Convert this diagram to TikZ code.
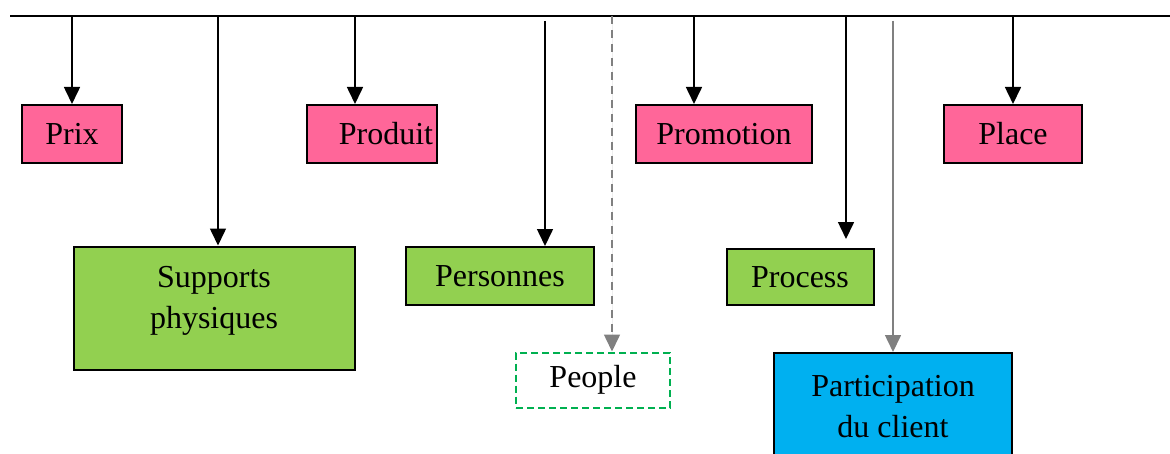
\documentclass[tikz,border=0pt]{standalone}
\usepackage{fontspec}
\setmainfont{Liberation Serif}
\usetikzlibrary{arrows.meta}
\definecolor{mixpink}{HTML}{FF6699}
\definecolor{mixgreen}{HTML}{92D050}
\definecolor{mixblue}{HTML}{00B0F0}
\definecolor{peoplegreen}{HTML}{00B050}
\definecolor{arrgray}{HTML}{808080}

\begin{document}
\begin{tikzpicture}[
        x=0.5pt, y=-0.5pt,
        every node/.style = {font=\fontsize{16}{20.5}\selectfont, align=center, inner sep=0pt},
        box/.style = {rectangle, draw=black, line width=1pt},
        pinkbox/.style = {box, fill=mixpink, minimum height=29pt},
        greenbox/.style = {box, fill=mixgreen},
        arr/.style = {-{Triangle[length=8.5pt,width=8pt]}, line width=0.8pt},
        grayarr/.style = {arr, draw=arrgray, fill=arrgray}]
      \useasboundingbox (0,0) rectangle (1170,454);
      \clip (0,0) rectangle (1170,454);
      % top line
      \draw[line width=0.9pt] (10,16) coordinate (lstart) -- (1170,16) coordinate (lend);
      % the seven P + the client
      \node[pinkbox, minimum width=50pt] (prix) at (72,134) {Prix};
      \node[pinkbox, minimum width=65pt] (produit) at (372,134) {\hspace*{14pt}Produit};
      \node[pinkbox, minimum width=88pt] (promotion) at (724,134) {Promotion};
      \node[pinkbox, minimum width=69pt] (place) at (1013,134) {Place};
      \node[greenbox, minimum width=140.5pt, minimum height=61.5pt] (supports) at (214,308) {Supports\\physiques\\[-10pt]\mbox{}};
      \node[greenbox, minimum width=94pt, minimum height=29pt] (personnes) at (500,276) {Personnes};
      \node[greenbox, minimum width=73.5pt, minimum height=28pt] (process) at (800,277) {Process};
      \node[draw=peoplegreen, dash pattern=on 3.5pt off 2pt, line width=1pt, fill=white,
            minimum width=77pt, minimum height=27.5pt] (people) at (593,380) {People};
      \node[box, fill=mixblue, minimum width=119pt, minimum height=54pt, anchor=north] (client) at (893,352) {Participation\\du client};
      % arrows from the top line
      \coordinate (a1) at (72,16);
      \coordinate (a2) at (218,16);
      \coordinate (a3) at (355,16);
      \coordinate (a4) at (545,21);
      \coordinate (a5) at (612,16);
      \coordinate (a6) at (694,16);
      \coordinate (a7) at (846,16);
      \coordinate (a8) at (893,21);
      \coordinate (a9) at (1013,16);
      \draw[arr] (a1) -- (prix.north);
      \draw[arr] (a2) -- (a2 |- supports.north);
      \draw[arr] (a3) -- (a3 |- produit.north);
      \draw[arr] (a4) -- (a4 |- personnes.north);
      \draw[grayarr, dash pattern=on 4pt off 3pt] (a5) -- (a5 |- people.north);
      \draw[arr] (a6) -- (a6 |- promotion.north);
      \draw[arr, shorten >=4.5pt] (a7) -- (a7 |- process.north);
      \draw[grayarr] (a8) -- (client.north);
      \draw[arr] (a9) -- (a9 |- place.north);
    \end{tikzpicture}
\end{document}
